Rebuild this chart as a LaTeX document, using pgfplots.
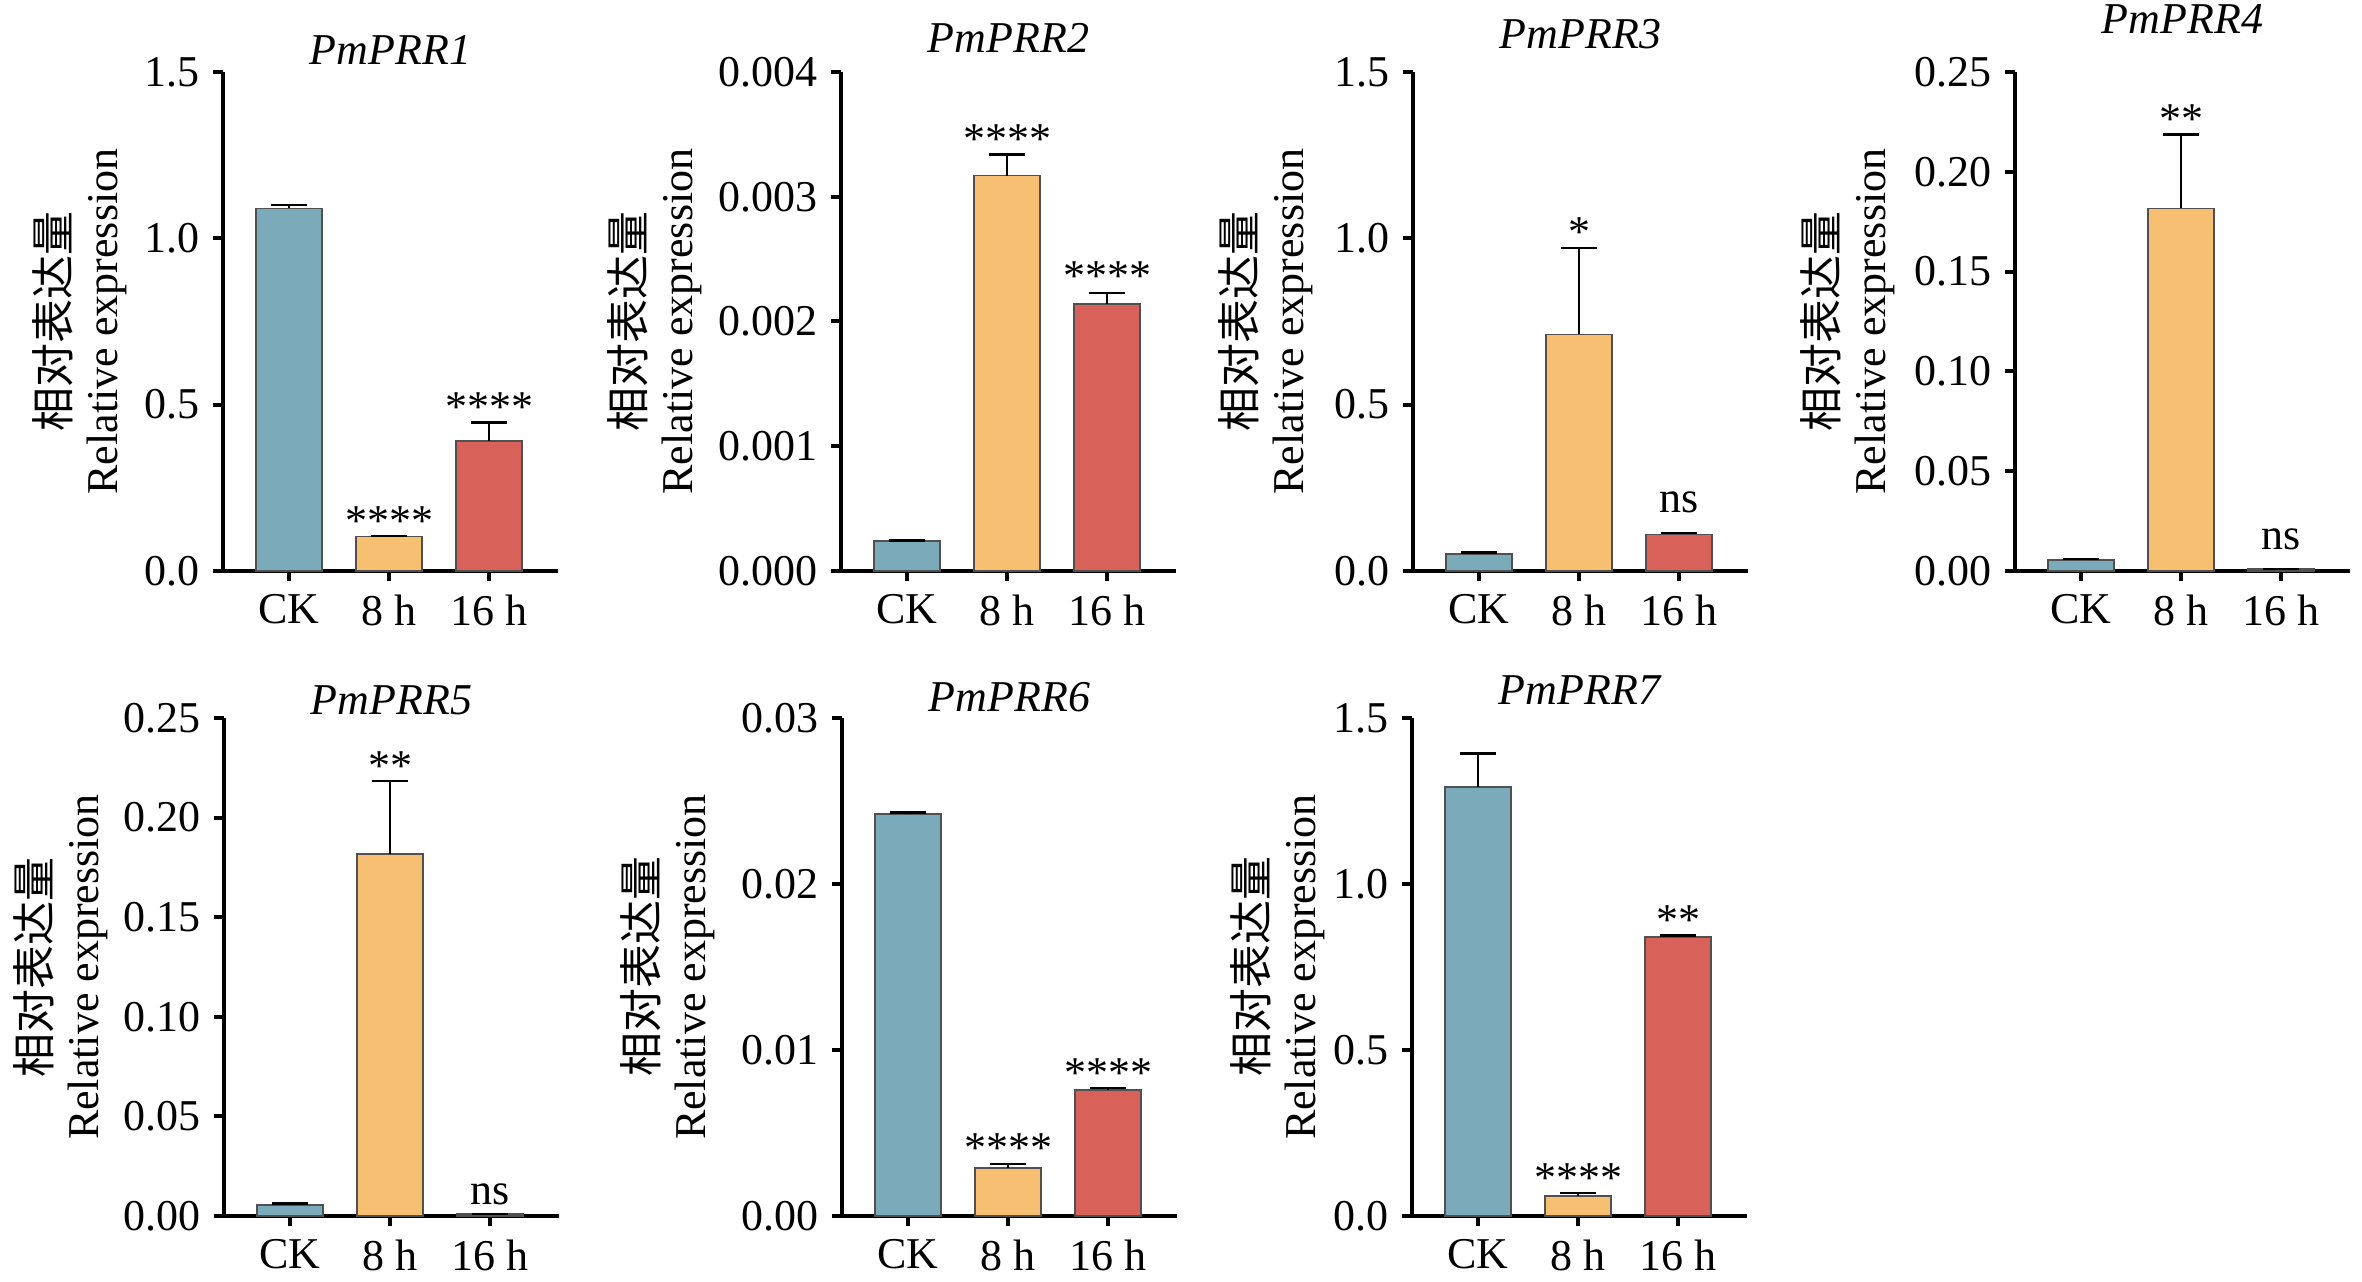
\documentclass[border=0pt]{standalone}
\usepackage{fontspec}
\setmainfont{Liberation Serif}
\newfontfamily\cjk{Noto Sans CJK SC}
\usepackage{pgfplots}
\pgfplotsset{compat=1.18}
\definecolor{ckc}{RGB}{123,171,187}
\definecolor{eightc}{RGB}{246,191,114}
\definecolor{sixc}{RGB}{216,98,89}
\definecolor{edgec}{RGB}{80,80,80}
\newcommand{\fs}{\fontsize{11}{12}\selectfont}
\pgfplotsset{
  /pgf/number format/assume math mode=true,
  panel/.style={
    scale only axis, width=83.75pt, height=124.75pt,
    xmin=-0.66, xmax=2.69, ymin=0,
    axis x line*=bottom, axis y line*=left,
    axis line style={line width=1pt, black},
    xtick={0,1,2}, xticklabels={CK,8 h,16 h},
    tick align=outside, major tick length=2.4pt,
    every tick/.style={line width=1pt, black},
    tick label style={font=\fs},
    scaled y ticks=false,
    ybar, bar width=16.5pt, bar shift=0pt,
    clip=false,
    every axis title/.style={font=\fs\itshape, at={(0.5,1)}, anchor=base},
    error bars/y dir=plus, error bars/y explicit,
    error bars/error bar style={line width=0.6pt, black},
    error bars/error mark options={rotate=90, mark size=4.4pt, line width=0.6pt, black},
    extra description/.code={\draw[line width=1pt] ([xshift=-2pt]axis description cs:0,0) -- (axis description cs:0,0);},
  },
  prec/.style={yticklabel style={/pgf/number format/fixed, /pgf/number format/fixed zerofill, /pgf/number format/precision=#1}},
  ylab/.style={every axis y label/.style={at={(axis description cs:-#1,0.5)}, rotate=90, anchor=center, align=center, font=\fontsize{11}{12}\selectfont}},
  ck/.style={fill=ckc, draw=edgec, line width=0.4pt},
  eh/.style={fill=eightc, draw=edgec, line width=0.4pt},
  sh/.style={fill=sixc, draw=edgec, line width=0.4pt},
  sig/.style={sharp plot, draw=none, nodes near coords, point meta=explicit symbolic,
    every node near coord/.style={font=\fs, inner sep=0pt, black}},
}
\begin{document}
\begin{tikzpicture}
\useasboundingbox (0,0) rectangle (590.5pt,320.5pt);
% ---------- PmPRR1
\begin{axis}[panel, prec=1, at={(55.75pt,177.75pt)}, ymax=1.5, ytick={0,0.5,1,1.5},
  title={PmPRR1}, title style={yshift=1.75pt}, ylab=0.428,
  ylabel={{\cjk 相对表达量}\\Relative expression}]
\addplot[ck] coordinates {(0,1.09) +- (0,0.01)};
\addplot[eh] coordinates {(1,0.104) +- (0,0.002)};
\addplot[sh] coordinates {(2,0.39) +- (0,0.056)};
\addplot[sig] table[meta=lab, row sep=\\] {x y lab\\ 1 0.105 ****\\ 2 0.447 ****\\};
\end{axis}
% ---------- PmPRR2
\begin{axis}[panel, prec=3, at={(210.25pt,177.75pt)}, ymax=0.004, ytick={0,0.001,0.002,0.003,0.004},
  title={PmPRR2}, title style={yshift=4.75pt}, ylab=0.555,
  ylabel={{\cjk 相对表达量}\\Relative expression}]
\addplot[ck] coordinates {(0,0.00024) +- (0,0.000005)};
\addplot[eh] coordinates {(1,0.00317) +- (0,0.00017)};
\addplot[sh] coordinates {(2,0.00214) +- (0,0.00009)};
\addplot[sig] table[meta=lab, row sep=\\] {x y lab\\ 1 0.00334 ****\\ 2 0.00224 ****\\};
\end{axis}
% ---------- PmPRR3
\begin{axis}[panel, prec=1, at={(353.25pt,177.75pt)}, ymax=1.5, ytick={0,0.5,1,1.5},
  title={PmPRR3}, title style={yshift=5.75pt}, ylab=0.44,
  ylabel={{\cjk 相对表达量}\\Relative expression}]
\addplot[ck] coordinates {(0,0.051) +- (0,0.004)};
\addplot[eh] coordinates {(1,0.711) +- (0,0.26)};
\addplot[sh] coordinates {(2,0.110) +- (0,0.004)};
\addplot[sig] table[meta=lab, row sep=\\] {x y lab\\ 1 0.972 *\\ 2 0.172 ns\\};
\end{axis}
% ---------- PmPRR4
\begin{axis}[panel, prec=2, at={(503.75pt,177.75pt)}, ymax=0.25, ytick={0,0.05,0.10,0.15,0.20,0.25},
  title={PmPRR4}, title style={yshift=9.5pt}, ylab=0.50,
  ylabel={{\cjk 相对表达量}\\Relative expression}]
\addplot[ck] coordinates {(0,0.0055) +- (0,0.0006)};
\addplot[eh] coordinates {(1,0.1817) +- (0,0.037)};
\addplot[sh] coordinates {(2,0.001) +- (0,0.0001)};
\addplot[sig] table[meta=lab, row sep=\\] {x y lab\\ 1 0.2186 **\\ 2 0.010 ns\\};
\end{axis}
% ---------- PmPRR5
\begin{axis}[panel, prec=2, at={(56pt,16.5pt)}, height=124.5pt, ymax=0.25, ytick={0,0.05,0.10,0.15,0.20,0.25},
  title={PmPRR5}, title style={yshift=1pt}, ylab=0.487,
  ylabel={{\cjk 相对表达量}\\Relative expression}]
\addplot[ck] coordinates {(0,0.0055) +- (0,0.0008)};
\addplot[eh] coordinates {(1,0.1816) +- (0,0.0368)};
\addplot[sh] coordinates {(2,0.001) +- (0,0.0001)};
\addplot[sig] table[meta=lab, row sep=\\] {x y lab\\ 1 0.2184 **\\ 2 0.005 ns\\};
\end{axis}
% ---------- PmPRR6
\begin{axis}[panel, prec=2, at={(210.5pt,16.5pt)}, height=124.5pt, ymax=0.03, ytick={0,0.01,0.02,0.03},
  title={PmPRR6}, title style={yshift=1.5pt}, ylab=0.52,
  ylabel={{\cjk 相对表达量}\\Relative expression}]
\addplot[ck] coordinates {(0,0.0242) +- (0,0.0001)};
\addplot[eh] coordinates {(1,0.0029) +- (0,0.00025)};
\addplot[sh] coordinates {(2,0.0076) +- (0,0.0001)};
\addplot[sig] table[meta=lab, row sep=\\] {x y lab\\ 1 0.00315 ****\\ 2 0.0077 ****\\};
\end{axis}
% ---------- PmPRR7
\begin{axis}[panel, prec=1, at={(353pt,16.5pt)}, height=124.5pt, ymax=1.5, ytick={0,0.5,1,1.5},
  title={PmPRR7}, title style={yshift=3.25pt}, ylab=0.402,
  ylabel={{\cjk 相对表达量}\\Relative expression}]
\addplot[ck] coordinates {(0,1.292) +- (0,0.101)};
\addplot[eh] coordinates {(1,0.061) +- (0,0.008)};
\addplot[sh] coordinates {(2,0.840) +- (0,0.005)};
\addplot[sig] table[meta=lab, row sep=\\] {x y lab\\ 1 0.069 ****\\ 2 0.845 **\\};
\end{axis}
\end{tikzpicture}
\end{document}
